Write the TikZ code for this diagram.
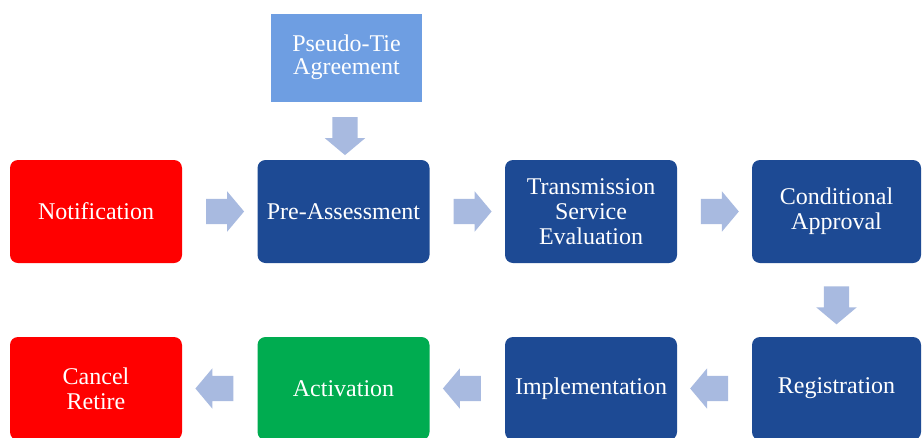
\documentclass[tikz,border=0pt]{standalone}
\usepackage{fontspec}
\setmainfont{Liberation Serif}
\usetikzlibrary{shapes.arrows,calc}
\definecolor{stepblue}{RGB}{29,74,148}
\definecolor{stepred}{RGB}{255,0,0}
\definecolor{stepgreen}{RGB}{0,172,80}
\definecolor{agreeblue}{RGB}{110,158,226}
\definecolor{flowarrow}{RGB}{168,186,224}
\begin{document}
\begin{tikzpicture}[x=1pt,y=-1pt,
  stepbox/.style={rounded corners=8pt, minimum width=172pt, minimum height=103pt,
    inner sep=2pt, align=center, text=white,
    font=\fontsize{24}{25}\selectfont},
  bluebox/.style={stepbox, fill=stepblue},
  redbox/.style={stepbox, fill=stepred},
  greenbox/.style={stepbox, fill=stepgreen},
  agreebox/.style={fill=agreeblue, minimum width=151pt, minimum height=88pt,
    align=center, text=white, font=\fontsize{24}{23.5}\selectfont},
  flow/.style={shape=single arrow, fill=flowarrow, draw=none,
    single arrow head extend=7.5pt, single arrow tip angle=100,
    minimum height=38pt, inner xsep=0pt, inner ysep=12.5pt}
]
\fill[white] (0,0) rectangle (922,437);
\useasboundingbox (0,0) rectangle (922,437);

% top row
\node[redbox]  (notif) at (96,211.5)  {Notification};
\node[bluebox] (pre)   at (343.5,211.5) {Pre-Assessment};
\node[bluebox] (trans) at (591,211.5) {Transmission\\Service\\Evaluation};
\node[bluebox, minimum width=169pt] (cond) at (836.5,211.5) {Conditional\\Approval};

% agreement feeding the pre-assessment
\node[agreebox] (pseudo) at (346.5,57.5) {Pseudo-Tie\\Agreement};

% bottom row
\node[redbox]   (cancel) at (96,388.5)  {Cancel\\Retire};
\node[greenbox] (act)    at (343.5,388.5) {Activation};
\node[bluebox]  (impl)   at (591,388.5) {Implementation};
\node[bluebox, minimum width=169pt] (reg) at (836.5,388.5) {Registration};

% block arrows between the steps
\node[flow] (a1) at ($(notif.east)!0.5!(pre.west)$) {};
\node[flow] (a2) at ($(pre.east)!0.5!(trans.west)$) {};
\node[flow] (a3) at ($(trans.east)!0.5!(cond.west)$) {};
\node[flow, rotate=-90] (a0) at ($(pseudo.south)!0.5!(pre.north)$) {};
\node[flow, rotate=-90] (a4) at ($(cond.south)!0.5!(reg.north)$) {};
\node[flow, rotate=180] (a5) at ($(reg.west)!0.5!(impl.east)$) {};
\node[flow, rotate=180] (a6) at ($(impl.west)!0.5!(act.east)$) {};
\node[flow, rotate=180] (a7) at ($(act.west)!0.5!(cancel.east)$) {};
\end{tikzpicture}
\end{document}
